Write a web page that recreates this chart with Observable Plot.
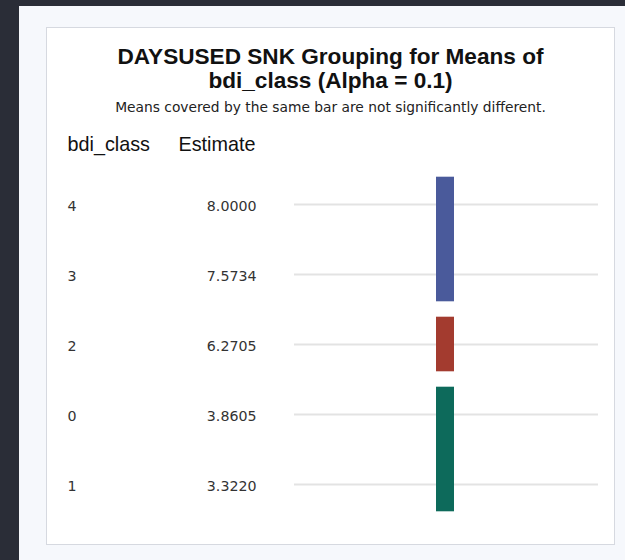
<!DOCTYPE html>
<html>
<head>
<meta charset="utf-8">
<script src="https://cdn.jsdelivr.net/npm/d3@7"></script>
<script src="https://cdn.jsdelivr.net/npm/@observablehq/plot@0.6"></script>
<style>
  html, body { margin: 0; padding: 0; }
  body { width: 625px; height: 560px; background: #2a2d37; position: relative; overflow: hidden; }
  .page { position: absolute; left: 19px; top: 6px; right: 0; bottom: 0; background: #f6f8fc; }
  .panel { position: absolute; left: 46px; top: 27px; width: 569px; height: 518px; box-sizing: border-box;
           border: 1px solid #d6d9e0; background: #ffffff; }
  .title { position: absolute; left: 0; right: 0; top: 17px; text-align: center;
           font-family: "Liberation Sans", Arial, sans-serif; font-weight: bold; font-size: 22.6px;
           line-height: 24px; color: #111; }
  .subtitle { position: absolute; left: 0; right: 0; top: 72px; text-align: center;
              font-family: "DejaVu Sans", sans-serif; font-size: 13.8px; line-height: 14px; color: #222; }
  #chart { position: absolute; left: 0; top: 97px; }
</style>
</head>
<body>
<div class="page"></div>
<div class="panel">
  <div class="title">DAYSUSED SNK Grouping for Means of<br>bdi_class (Alpha = 0.1)</div>
  <div class="subtitle">Means covered by the same bar are not significantly different.</div>
  <div id="chart"></div>
</div>
<script>
// Rows in display order (sorted by mean, descending)
const bdiClass = ["4", "3", "2", "0", "1"];
const estimates = [8.0000, 7.5734, 6.2705, 3.8605, 3.3220];

// SNK groups: first and last class covered by each bar
const groupFirst = ["4", "2", "0"];
const groupLast = ["3", "2", "1"];
const groupColors = ["#4a5a9b", "#a33b2f", "#0d6a5b"];

// Column headers
const headers = ["bdi_class", "Estimate"];

const rows = bdiClass.map((c, i) => ({cls: c, est: estimates[i], row: i}));
const groups = groupFirst.map((f, i) => ({
  start: bdiClass.indexOf(f),
  end: bdiClass.indexOf(groupLast[i]),
  color: groupColors[i]
}));

// Horizontal layout of the table columns (chart units = pixels)
const W = 567, H = 418;
const col = {cls: 20, est: 209, estHead: 131, gridFrom: 247, gridTo: 551, bar: 398};
const barHalfWidth = 9;
const barPad = 0.39; // bar extension beyond the first/last covered row, in rows

const chart = Plot.plot({
  width: W,
  height: H,
  margin: 0,
  x: {domain: [0, W], range: [0, W], axis: null},
  y: {domain: [0, bdiClass.length - 1], range: [79, 359], axis: null},
  marks: [
    // reference lines for each mean
    Plot.ruleY(rows, {y: "row", x1: col.gridFrom, x2: col.gridTo, stroke: "#e3e3e3", strokeWidth: 2}),
    // grouping bars
    Plot.rect(groups, {
      x1: col.bar - barHalfWidth, x2: col.bar + barHalfWidth,
      y1: d => d.start - barPad, y2: d => d.end + barPad,
      fill: "color"
    }),
    // class labels
    Plot.text(rows, {
      x: col.cls, y: "row", dy: 2, text: "cls", textAnchor: "start",
      fontFamily: "DejaVu Sans", fontSize: 14.2, fill: "#333"
    }),
    // estimates
    Plot.text(rows, {
      x: col.est, y: "row", dy: 2, text: d => d.est.toFixed(4), textAnchor: "end",
      fontFamily: "DejaVu Sans", fontSize: 14.2, fill: "#333"
    }),
    // column headers
    Plot.text([headers[0]], {
      x: col.cls, frameAnchor: "top", dy: 25, lineAnchor: "bottom", text: d => d, textAnchor: "start",
      fontFamily: "Liberation Sans", fontSize: 19.8, fill: "#111"
    }),
    Plot.text([headers[1]], {
      x: col.estHead, frameAnchor: "top", dy: 25, lineAnchor: "bottom", text: d => d, textAnchor: "start",
      fontFamily: "Liberation Sans", fontSize: 19.8, fill: "#111"
    })
  ]
});
chart.style.background = "transparent";
document.getElementById("chart").appendChild(chart);
</script>
</body>
</html>
